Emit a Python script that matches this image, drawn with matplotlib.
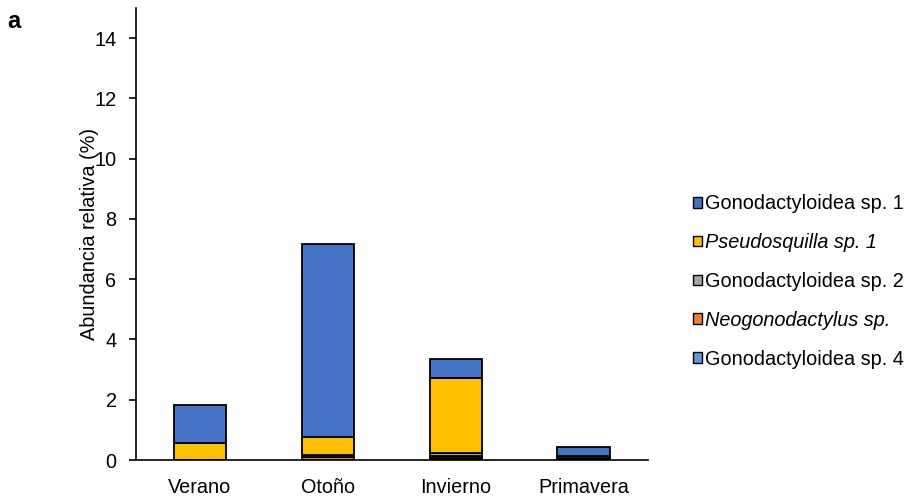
import numpy as np
import matplotlib.pyplot as plt
from matplotlib.patches import Patch

plt.rcParams['font.family'] = ['Liberation Sans', 'DejaVu Sans']

seasons = ['Verano', 'Otoño', 'Invierno', 'Primavera']

# stacked from the bottom up
gono_sp4 = [0.0, 0.0, 0.08, 0.02]
neogono = [0.0, 0.10, 0.05, 0.02]
gono_sp2 = [0.0, 0.07, 0.09, 0.03]
pseudo = [0.55, 0.60, 2.49, 0.06]
gono_sp1 = [1.27, 6.39, 0.65, 0.31]

series = [
    ('Gonodactyloidea sp. 4', gono_sp4, '#5B9BD5', False),
    ('Neogonodactylus sp.', neogono, '#ED7D31', True),
    ('Gonodactyloidea sp. 2', gono_sp2, '#A5A5A5', False),
    ('Pseudosquilla sp. 1', pseudo, '#FFC000', True),
    ('Gonodactyloidea sp. 1', gono_sp1, '#4472C4', False),
]

fs = 14.3

fig = plt.figure(figsize=(9.07, 5.0), dpi=100)
ax = fig.add_axes([0.15, 0.08, 0.564, 0.904])

x = np.arange(len(seasons))
bottom = np.zeros(len(seasons))
for name, vals, col, it in series:
    vals = np.array(vals)
    ax.bar(x, vals, 0.41, bottom=bottom, color=col, edgecolor='black', linewidth=1.3)
    bottom += vals

ax.set_xlim(-0.5, 3.5)
ax.set_ylim(0, 15)
ax.set_yticks(np.arange(0, 15, 2))
ax.set_xticks(x)
ax.set_xticklabels(seasons, fontsize=fs)
ax.tick_params(axis='y', labelsize=fs, direction='out', length=5, width=1.2, pad=9)
ax.tick_params(axis='x', length=0, pad=13)
ax.spines['top'].set_visible(False)
ax.spines['right'].set_visible(False)
ax.spines['left'].set_linewidth(1.2)
ax.spines['bottom'].set_linewidth(1.2)
ax.set_ylabel('Abundancia relativa (%)', fontsize=fs, labelpad=-3)

handles = []
labels = []
for name, vals, col, it in series[::-1]:
    handles.append(Patch(facecolor=col, edgecolor='black', linewidth=1.0))
    labels.append(name)
leg = fig.legend(handles, labels, loc='center left', bbox_to_anchor=(0.764, 0.437),
                 frameon=False, fontsize=fs, handlelength=0.45, handleheight=0.45,
                 handletextpad=0.15, labelspacing=1.0, borderaxespad=0, borderpad=0)
for txt, (name, vals, col, it) in zip(leg.get_texts(), series[::-1]):
    if it:
        txt.set_fontstyle('italic')

fig.text(0.008, 0.945, 'a', fontsize=17, fontweight='bold')

fig.savefig('out.png', dpi=100)
